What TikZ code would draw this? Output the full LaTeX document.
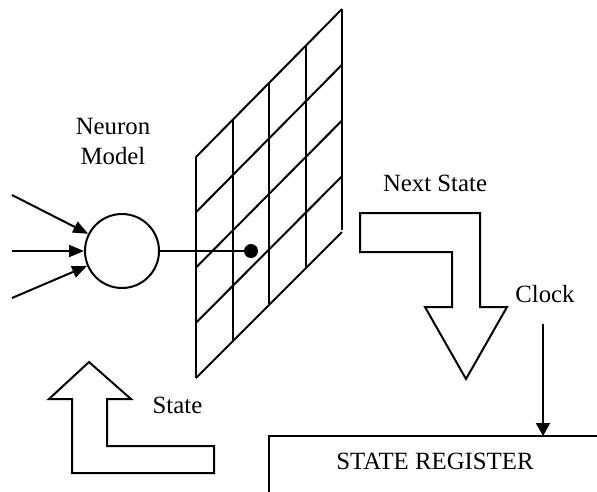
\documentclass[tikz,border=0pt]{standalone}
\usepackage{fontspec}
\setmainfont{Liberation Serif}
\usetikzlibrary{arrows.meta}
\tikzset{
  every picture/.style={x=1pt,y=-1pt,line width=2pt,line join=miter},
  lbl/.style={font=\fontsize{24.8}{30}\selectfont,inner sep=0pt},
  sig/.style={-{Triangle[length=15pt,width=12pt]}},
  bigarrow/.style={draw,fill=white,line width=2pt},
}
\begin{document}
\begin{tikzpicture}
\useasboundingbox (0,0) rectangle (597,491);

% neuron and its inputs
\node[draw,circle,minimum size=74pt,inner sep=0pt] (neuron) at (122,251) {};
\coordinate (in1) at (12,195);
\coordinate (in2) at (12,251);
\coordinate (in3) at (12,298);
\draw[sig] (in1) -- (neuron);
\draw[sig] (in2) -- (neuron);
\draw[sig] (in3) -- (neuron);
\node[lbl,align=center] (neuronlbl) at (113,141) {Neuron\\Model};

% slanted grid of weights (4 x 4 cells)
\foreach \i in {0,...,4} {
  \draw (196+36.5*\i,157-37*\i) -- (196+36.5*\i,378-37*\i);
  \draw (196,157+55.25*\i) -- (342,9+55.75*\i);
}

% synapse dot
\node[circle,fill,minimum size=14pt,inner sep=0pt] (dot) at (251,251) {};
\draw (neuron) -- (dot.center);

% next-state bent arrow
\draw[bigarrow] (360,213) -- (480,213) -- (480,307) -- (507,307) -- (466,379)
  -- (425,307) -- (452,307) -- (452,252) -- (360,252) -- cycle;
\node[lbl,anchor=base] (nextlbl) at (435,191) {Next State};

% state feedback bent arrow
\draw[bigarrow] (72,473) -- (214,473) -- (214,446) -- (107,446) -- (107,399)
  -- (131,399) -- (89,362) -- (49,399) -- (72,399) -- cycle;
\node[lbl,anchor=base] (statelbl) at (177.5,413) {State};

% state register (cut off at the page edge)
\draw (269,520) |- (620,436);
\node[lbl,anchor=base] (reglbl) at (435,469) {STATE REGISTER};

% clock input
\node[lbl,anchor=base] (clocklbl) at (545,302) {Clock};
\coordinate (clktop) at (543,324);
\coordinate (clkin) at (543,436);
\draw[-{Triangle[length=13pt,width=14pt]}] (clktop) -- (clkin);
\end{tikzpicture}
\end{document}
